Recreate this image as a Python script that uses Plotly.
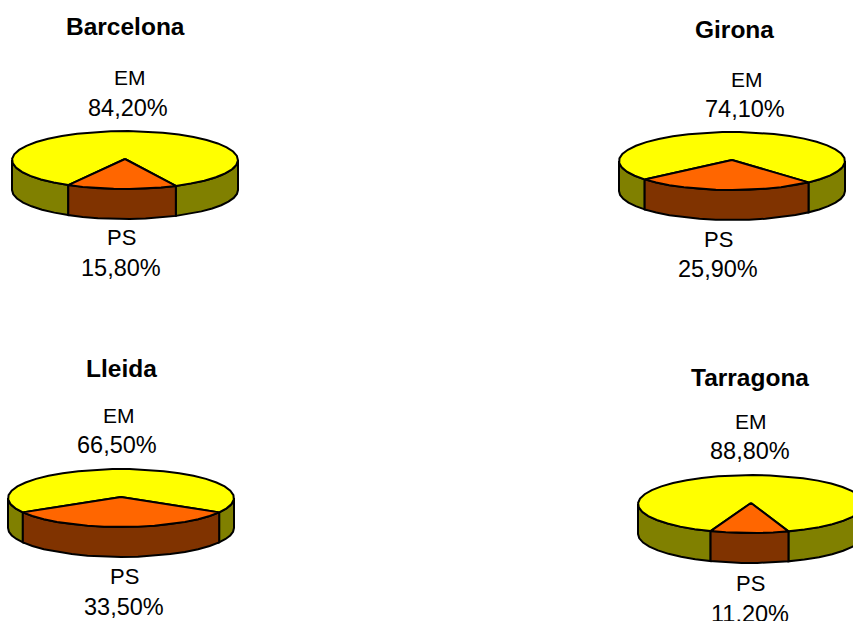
import numpy as np
import plotly.graph_objects as go

# ---- data ----
provinces = ["Barcelona", "Girona", "Lleida", "Tarragona"]
party_a = "EM"
party_b = "PS"
em_values = [84.2, 74.1, 66.5, 88.8]
ps_values = [15.8, 25.9, 33.5, 11.2]

# ---- layout (pixels) ----
W, H = 853, 621
centers_x = [125, 732, 121, 751]
apex_y = [159, 160, 497, 503]
rotation = [-1.7, -4.0, 0.0, -0.8]
title_pos = [(125, 26), (734, 29), (121, 368), (750, 377)]
em_name_pos = [(130, 77), (747, 79), (119, 415), (751, 421)]
em_val_pos = [(128, 108), (745, 109), (117, 445), (750, 451)]
ps_name_pos = [(121, 237), (718, 239), (124, 576), (750, 583)]
ps_val_pos = [(121, 268), (718, 269), (124, 607), (750, 614)]
RX, RY, DEPTH = 113, 29, 30
ELLIPSE_DY = 1
SIZE_TITLE, SIZE_EM, SIZE_PS, SIZE_VALUE = 24.5, 21, 22, 23.5

YELLOW, ORANGE, OLIVE, BROWN = "#FFFF00", "#FF6600", "#808000", "#803300"
LINE = dict(color="black", width=2)


def arc(cx, cy, a0, a1, n=None):
    n = n or max(2, int(abs(a1 - a0) / 9) + 2)
    t = np.radians(np.linspace(a0, a1, n))
    return cx + RX * np.sin(t), cy + ELLIPSE_DY + RY * np.cos(t)


def poly(fig, x, y, color):
    fig.add_trace(go.Scatter(
        x=list(x) + [x[0]], y=list(y) + [y[0]], mode="lines", fill="toself",
        fillcolor=color, line=LINE, hoverinfo="skip", showlegend=False))


def side(fig, cx, cy, a0, a1, color):
    x, y = arc(cx, cy, a0, a1)
    poly(fig, np.r_[x, x[::-1]], np.r_[y, (y + DEPTH)[::-1]], color)


fig = go.Figure()
for i, name in enumerate(provinces):
    cx, cy = centers_x[i], apex_y[i]
    half = ps_values[i] * 3.6 / 2
    a0, a1 = rotation[i] - half, rotation[i] + half
    side(fig, cx, cy, -90, a0, OLIVE)
    side(fig, cx, cy, a1, 90, OLIVE)
    side(fig, cx, cy, a0, a1, BROWN)
    x, y = arc(cx, cy, a1, a0 + 360)
    poly(fig, np.r_[cx, x], np.r_[cy, y], YELLOW)
    x, y = arc(cx, cy, a0, a1)
    poly(fig, np.r_[cx, x], np.r_[cy, y], ORANGE)


def fmt(v):
    return f"{v:.2f}%".replace(".", ",")


annotations = []


def label(pos, text, size, bold=False):
    annotations.append(dict(
        x=pos[0], y=pos[1], text=f"<b>{text}</b>" if bold else text,
        showarrow=False, xanchor="center", yanchor="middle",
        font=dict(family="Liberation Sans, Arial, sans-serif", size=size, color="black")))


for i, name in enumerate(provinces):
    label(title_pos[i], name, SIZE_TITLE, True)
    label(em_name_pos[i], party_a, SIZE_EM)
    label(em_val_pos[i], fmt(em_values[i]), SIZE_VALUE)
    label(ps_name_pos[i], party_b, SIZE_PS)
    label(ps_val_pos[i], fmt(ps_values[i]), SIZE_VALUE)

fig.update_layout(
    width=W, height=H, autosize=False,
    margin=dict(l=0, r=0, t=0, b=0),
    paper_bgcolor="white", plot_bgcolor="white",
    xaxis=dict(range=[0, W], visible=False, fixedrange=True),
    yaxis=dict(range=[H, 0], visible=False, fixedrange=True),
    annotations=annotations,
)
fig.write_html("out.html", config={"displayModeBar": False},
               post_script="document.body.style.margin='0';document.body.style.overflow='hidden';")
